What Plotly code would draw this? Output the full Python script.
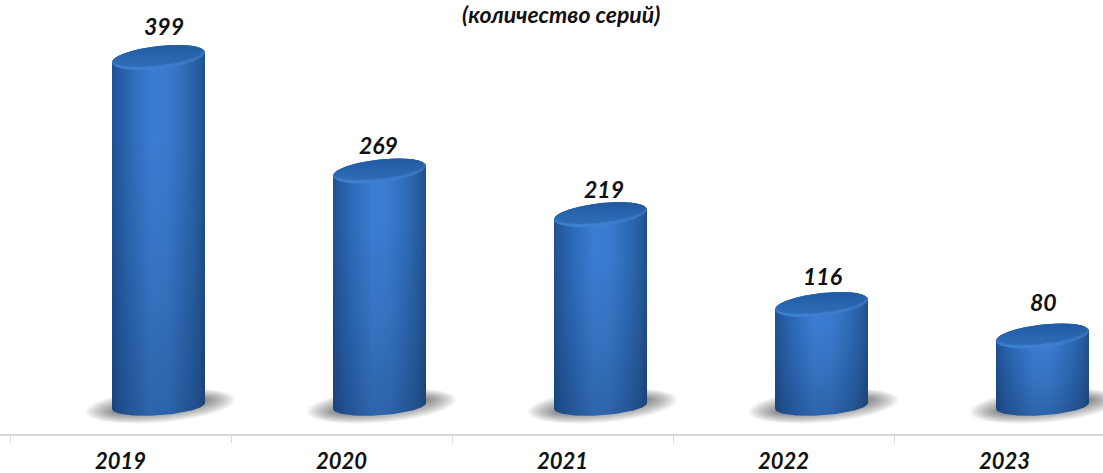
import numpy as np
import plotly.graph_objects as go

# Annual number of series
years = ["2019", "2020", "2021", "2022", "2023"]
series_counts = [399, 269, 219, 116, 80]
subtitle = "(количество серий)"

# Drawing constants (axis units: one category = 221 px, one series = 0.873 px)
PX_X = 1 / 221
PX_Y = 1 / 0.873
CYL_OFFSET = 38 * PX_X
RX = 46.5 * PX_X
RY = 11.5 * PX_Y
SHEAR = 5 * PX_Y
BLUE_H = [
    [0.00, "#204f8e"], [0.06, "#2459a0"], [0.20, "#2d69b6"], [0.42, "#3a7dd2"],
    [0.60, "#397bce"], [0.80, "#2e6ab5"], [0.93, "#265c9f"], [1.00, "#1f4e8b"],
]
SHADE_V = [[0, "rgba(10,30,60,0.26)"], [0.4, "rgba(10,30,60,0.10)"], [0.75, "rgba(10,30,60,0)"], [1, "rgba(10,30,60,0)"]]
RIM_V = [[0, "#3f83d3"], [0.35, "#3876c4"], [1, "#2c67b0"]]
CAP_V = [[0, "#2f6db9"], [0.5, "#2864ae"], [1, "#235a9f"]]
FONT_FAMILY = "Lato, 'Open Sans', sans-serif"
VALUE_FONT = dict(family=FONT_FAMILY, size=23, color="#111111")
YEAR_FONT = dict(family=FONT_FAMILY, size=22, color="#111111")


def ellipse(cx, cy, rx=RX, ry=RY, shear=SHEAR, t=None):
    t = np.linspace(0, 2 * np.pi, 121) if t is None else t
    return cx + rx * np.cos(t), cy + ry * np.sin(t) + shear * np.cos(t)


def area(x, y, **kw):
    return go.Scatter(x=x.tolist(), y=y.tolist(), mode="lines", fill="toself", line=dict(width=0),
                      hoverinfo="skip", showlegend=False, **kw)


fig = go.Figure()

for i, count in enumerate(series_counts):
    cx = i + CYL_OFFSET

    # soft floor shadow from stacked translucent ellipses
    layers = 24
    for k in range(layers):
        f = (1 - k / layers) ** 1.2
        sx, sy = ellipse(cx + 2 * PX_X, 0, rx=(40 + 35 * f) * PX_X,
                         ry=(3 + 14 * f) * PX_Y, shear=6 * PX_Y)
        fig.add_trace(area(sx, sy, fillcolor="rgba(80,80,80,0.042)"))

    # cylinder side: front half of the base, back along the top edge
    bx, by = ellipse(cx, 0, ry=9.5 * PX_Y, shear=3 * PX_Y, t=np.linspace(0, -np.pi, 61))
    tx, ty = ellipse(cx, count, t=np.linspace(np.pi, 0, 61))
    body_x = np.concatenate([bx, tx])
    body_y = np.concatenate([by, ty])
    fig.add_trace(area(body_x, body_y, fillgradient=dict(type="horizontal", colorscale=BLUE_H)))
    fig.add_trace(area(body_x, body_y, fillgradient=dict(type="vertical", colorscale=SHADE_V)))

    # top cap: bevelled rim with a darker inner face
    rim_x, rim_y = ellipse(cx, count)
    fig.add_trace(area(rim_x, rim_y, fillgradient=dict(type="vertical", colorscale=RIM_V)))
    cap_x, cap_y = ellipse(cx - 0.5 * PX_X, count + 1.5 * PX_Y, rx=RX * 0.97, ry=RY * 0.84)
    fig.add_trace(area(cap_x, cap_y, fillgradient=dict(type="vertical", colorscale=CAP_V)))

# value labels, nudged to sit just above each cap
label_shift = [(5, 31), (-1, 26), (3, 26), (1, 29), (1, 34)]
for i, count in enumerate(series_counts):
    fig.add_annotation(x=i + CYL_OFFSET, y=count, text=f"<b><i>{count}</i></b>", showarrow=False,
                       xshift=label_shift[i][0], yshift=label_shift[i][1], font=VALUE_FONT)

fig.add_annotation(xref="paper", yref="paper", x=561 / 1103, y=1, yanchor="top", yshift=2,
                   text=f"<b><i>{subtitle}</i></b>", showarrow=False,
                   font=dict(family=FONT_FAMILY, size=23, color="#111111"))

fig.update_layout(
    width=1103, height=473, margin=dict(l=0, r=0, t=0, b=39, autoexpand=False),
    paper_bgcolor="white", plot_bgcolor="white", showlegend=False,
    xaxis=dict(range=[-0.5 - 10 * PX_X, -0.5 + 1093 * PX_X], showgrid=False, zeroline=False,
               automargin=False, showline=True, linecolor="#d9d9d9", linewidth=1.5,
               tickmode="array", tickvals=list(range(len(years))), ticktext=[f"<b><i>{y}</i></b>" for y in years],
               ticks="", ticklen=0, tickfont=YEAR_FONT, ticklabelstandoff=7,
               minor=dict(tickmode="array", tickvals=[i - 0.5 for i in range(len(years) + 1)],
                          ticks="outside", ticklen=7, tickcolor="#d9d9d9", tickwidth=1)),
    yaxis=dict(range=[-28.2 * PX_Y, 405.8 * PX_Y], visible=False),
)
fig.write_html("out.html", config=dict(displayModeBar=False))
